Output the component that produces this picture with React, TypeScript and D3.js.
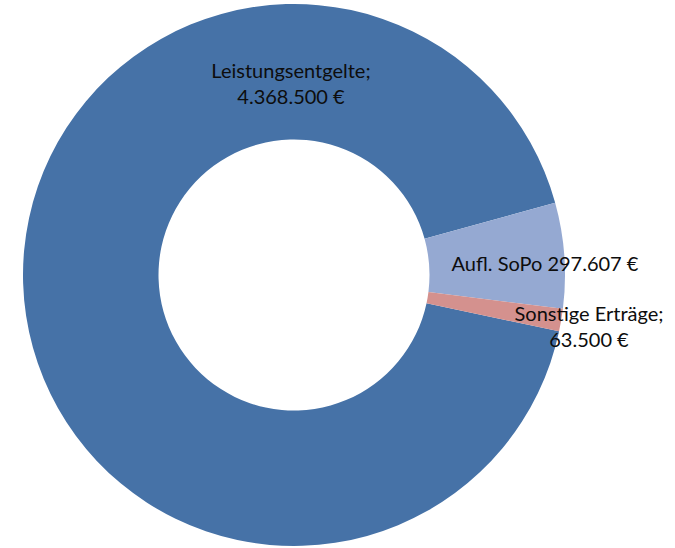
import React, { useEffect, useRef } from 'react';
import * as d3 from 'd3';

const categories = ['Leistungsentgelte', 'Aufl. SoPo', 'Sonstige Erträge'];
const values = [4368500, 297607, 63500];
const colors = ['#4672A7', '#95A9D2', '#D4918E'];
// label text lines, as Excel shows them
const labelLines = [
  ['Leistungsentgelte;', '4.368.500 €'],
  ['Aufl. SoPo 297.607 €'],
  ['Sonstige Erträge;', '63.500 €'],
];

const width = 675;
const height = 548;

export default function App() {
  const ref = useRef<SVGSVGElement | null>(null);

  useEffect(() => {
    const svg = d3.select(ref.current);
    svg.selectAll('*').remove();

    const cx = 294;
    const cy = 275;
    const outer = 271;
    const inner = 135.5;
    // first slice starts a bit past 3 o'clock (Excel "angle of first slice")
    const start = (102 * Math.PI) / 180;

    const pie = d3
      .pie<number>()
      .value((d) => d)
      .sort(null)
      .startAngle(start)
      .endAngle(start + 2 * Math.PI);

    const arc = d3.arc<d3.PieArcDatum<number>>().innerRadius(inner).outerRadius(outer);

    const g = svg.append('g').attr('transform', `translate(${cx},${cy})`);

    const arcs = pie(values);

    g.selectAll('path')
      .data(arcs)
      .enter()
      .append('path')
      .attr('d', arc)
      .style('fill', (d, i) => colors[i]);

    // label anchors, relative to the centre (labels were dragged in the original)
    const labelPos = [
      [-3, -197],
      [251, -4],
      [295, 46],
    ];
    const lineH = 25.5;

    arcs.forEach((d, i) => {
      const t = g
        .append('text')
        .attr('x', labelPos[i][0])
        .attr('y', labelPos[i][1])
        .attr('text-anchor', 'middle')
        .style('font-family', 'Lato, "Open Sans", sans-serif')
        .style('font-size', '20px')
        .style('fill', '#0d0d0d')
        .attr('aria-label', categories[i]);
      labelLines[i].forEach((line, j) => {
        t.append('tspan')
          .attr('x', labelPos[i][0])
          .attr('dy', j === 0 ? 0 : lineH)
          .text(line);
      });
    });
  }, []);

  return (
    <div style={{ position: 'absolute', left: 0, top: 0 }}>
      <svg ref={ref} width={width} height={height} style={{ display: 'block', background: '#fff' }} />
    </div>
  );
}
